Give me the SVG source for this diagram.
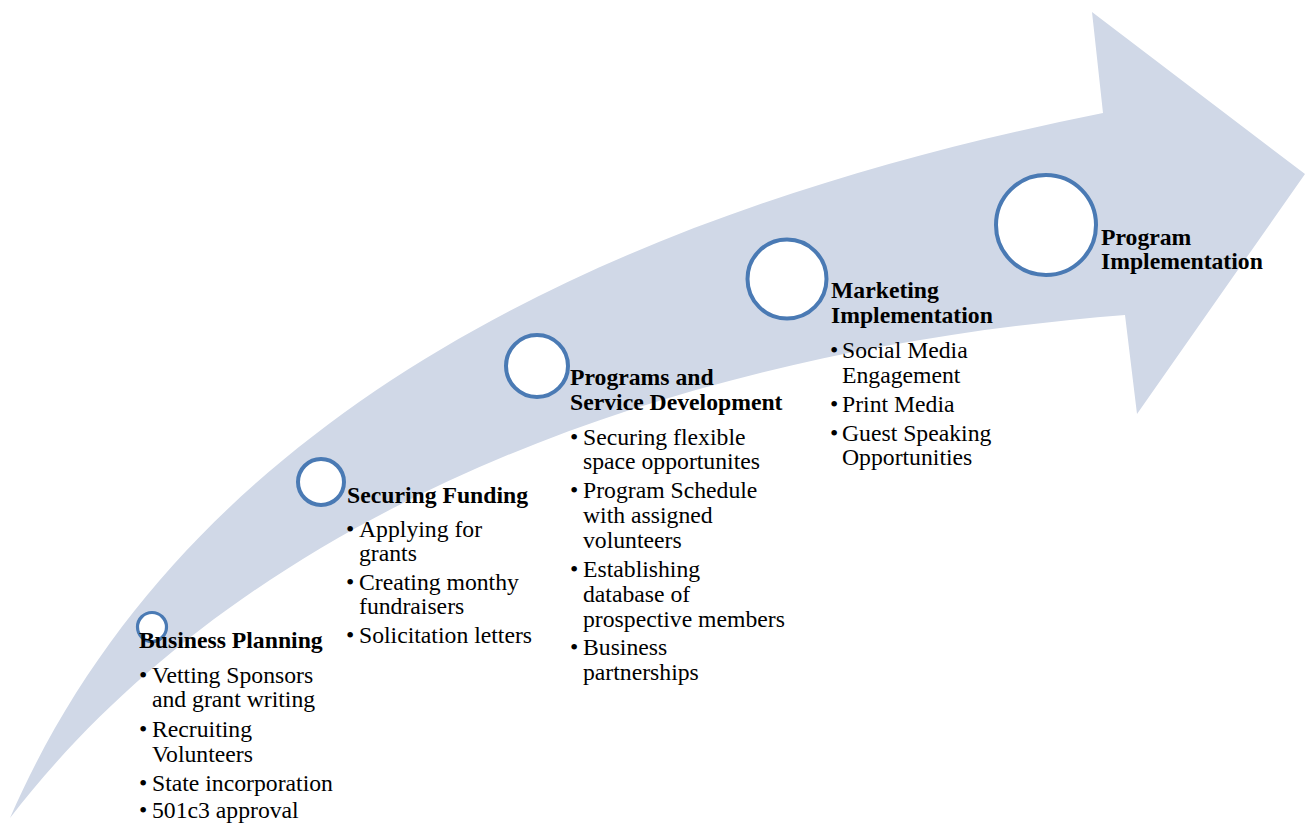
<svg xmlns="http://www.w3.org/2000/svg" width="1306" height="823" viewBox="0 0 1306 823">
<style>
.arrow{fill:#D0D8E7;stroke:none}
.dot{fill:#FFFFFF;stroke:#4A7AB4;stroke-width:4}
.t{font-family:"Liberation Serif","Times New Roman",serif;font-size:23.7px;fill:#000}
.h{font-weight:bold}
</style>
<rect width="1306" height="823" fill="#FFFFFF"/>
<g id="arrow">
<path class="arrow" d="M10,818 C195,392.5 653,203 1103,113 L1092,12 L1305,174 L1137,414 L1125,315 C605,356.6 220,545 10,818 Z"/>
</g>
<g id="connectors"></g>
<g id="node-business-planning">
<circle class="dot" cx="152" cy="627" r="14.5" style="stroke-width:3.2"/>
<text class="t h" x="139" y="648">Business Planning</text>
<text class="t"><tspan x="139" y="683">•</tspan><tspan x="152" y="683">Vetting Sponsors</tspan><tspan x="152" y="707">and grant writing</tspan><tspan x="139" y="737">•</tspan><tspan x="152" y="737">Recruiting</tspan><tspan x="152" y="762">Volunteers</tspan><tspan x="139" y="791">•</tspan><tspan x="152" y="791">State incorporation</tspan><tspan x="139" y="818">•</tspan><tspan x="152" y="818">501c3 approval</tspan></text>
</g>
<g id="node-securing-funding">
<circle class="dot" cx="321" cy="482" r="23"/>
<text class="t h" x="347" y="503">Securing Funding</text>
<text class="t"><tspan x="346" y="537">•</tspan><tspan x="359" y="537">Applying for</tspan><tspan x="359" y="561">grants</tspan><tspan x="346" y="590">•</tspan><tspan x="359" y="590">Creating monthy</tspan><tspan x="359" y="614">fundraisers</tspan><tspan x="346" y="643">•</tspan><tspan x="359" y="643">Solicitation letters</tspan></text>
</g>
<g id="node-programs">
<circle class="dot" cx="537" cy="366" r="31"/>
<text class="t h"><tspan x="570" y="385">Programs and</tspan><tspan x="570" y="410">Service Development</tspan></text>
<text class="t"><tspan x="570" y="445">•</tspan><tspan x="583" y="445">Securing flexible</tspan><tspan x="583" y="469">space opportunites</tspan><tspan x="570" y="498">•</tspan><tspan x="583" y="498">Program Schedule</tspan><tspan x="583" y="523">with assigned</tspan><tspan x="583" y="548">volunteers</tspan><tspan x="570" y="577">•</tspan><tspan x="583" y="577">Establishing</tspan><tspan x="583" y="602">database of</tspan><tspan x="583" y="627">prospective members</tspan><tspan x="570" y="655">•</tspan><tspan x="583" y="655">Business</tspan><tspan x="583" y="680">partnerships</tspan></text>
</g>
<g id="node-marketing">
<circle class="dot" cx="787" cy="279" r="39.5"/>
<text class="t h"><tspan x="831" y="298">Marketing</tspan><tspan x="831" y="323">Implementation</tspan></text>
<text class="t"><tspan x="830" y="358">•</tspan><tspan x="842" y="358">Social Media</tspan><tspan x="842" y="383">Engagement</tspan><tspan x="830" y="412">•</tspan><tspan x="842" y="412">Print Media</tspan><tspan x="830" y="441">•</tspan><tspan x="842" y="441">Guest Speaking</tspan><tspan x="842" y="465">Opportunities</tspan></text>
</g>
<g id="node-program-implementation">
<circle class="dot" cx="1046" cy="225" r="50"/>
<text class="t h"><tspan x="1101" y="245">Program</tspan><tspan x="1101" y="269">Implementation</tspan></text>
</g>
</svg>
